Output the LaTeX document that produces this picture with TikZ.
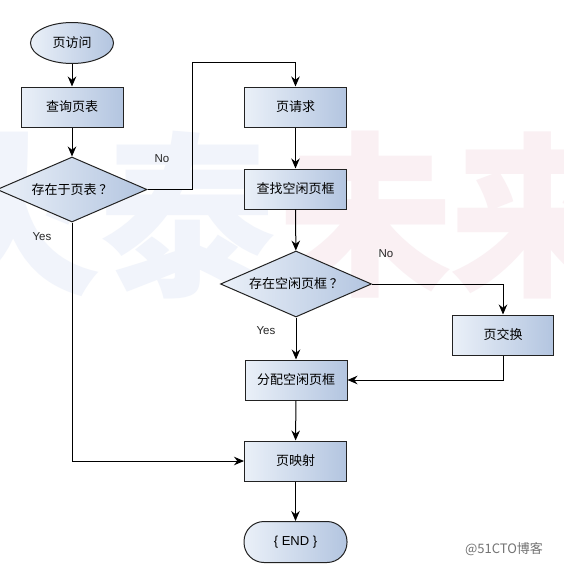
\documentclass[tikz,border=0pt]{standalone}
\usepackage{fontspec}
\setmainfont{Liberation Sans}
\newfontfamily\cjk{Noto Sans CJK SC}
\usetikzlibrary{shapes.geometric,arrows.meta}
\definecolor{boxL}{HTML}{EAF0F8}
\definecolor{boxR}{HTML}{B3C5E0}
\definecolor{wmblue}{HTML}{F1F4FB}
\definecolor{wmpink}{HTML}{FAF0F3}
\definecolor{edge}{HTML}{222222}
\begin{document}
\begin{tikzpicture}[x=1pt,y=-1pt,line width=1pt,
  cjkfont/.style={font=\cjk\fontsize{13}{15}\selectfont},
  box/.style={draw=edge, rectangle, minimum width=102pt, minimum height=40pt, inner sep=0pt,
    left color=boxL, right color=boxR, cjkfont},
  dec/.style={draw=edge, diamond, minimum width=150pt, minimum height=65pt, aspect=2.3,
    inner sep=0pt, left color=boxL, right color=boxR, cjkfont},
  term/.style={draw=edge, ellipse, minimum width=83pt, minimum height=41pt, inner sep=0pt,
    left color=boxL, right color=boxR, cjkfont},
  endbox/.style={draw=edge, rectangle, rounded corners=20pt, minimum width=103pt,
    minimum height=41pt, inner sep=0pt, left color=boxL, right color=boxR,
    font=\fontsize{13}{15}\selectfont},
  lab/.style={font=\fontsize{11.5}{13}\selectfont, text=black!85, inner sep=0pt},
  wm/.style={font=\cjk\bfseries\fontsize{176}{176}\selectfont, inner sep=0pt},
  arr/.style={-{Stealth[length=10pt,width=8.5pt]}, draw=black}
]
\useasboundingbox (0,0) rectangle (564,568);
\fill[white] (0,0) rectangle (564,568);
% watermark
\begin{scope}
  \clip (0,0) rectangle (564,568);
  \node[wm, text=wmblue] (wm1) at (15,215) {火};
  \node[wm, text=wmblue] (wm2) at (187,215) {泰};
  \node[wm, text=wmpink] (wm3) at (365,215) {未};
  \node[wm, text=wmpink] (wm4) at (537,215) {来};
\end{scope}
% nodes
\node[term] (start) at (72,43) {页访问};
\node[box] (query) at (72,107) {查询页表};
\node[dec] (d1) at (72,189.5) {存在于页表 ？};
\node[box] (req) at (295.5,107) {页请求};
\node[box] (find) at (295.5,189) {查找空闲页框};
\node[dec, minimum width=151pt, minimum height=66pt] (d2) at (296,284) {存在空闲页框 ？};
\node[box, minimum width=101pt] (swap) at (503,335) {页交换};
\node[box] (alloc) at (296,380) {分配空闲页框};
\node[box] (map) at (295.5,461) {页映射};
\node[endbox] (end) at (295.5,542) {\{ END \}};
\coordinate (c1) at (192,62);
% connectors
\draw[arr] (start) -- (query);
\draw[arr] (query) -- (d1);
\draw[arr] (d1.east) -| (c1) -| (req.north);
\draw[arr] (req) -- (find);
\draw[arr] (find) -- (d2);
\draw[arr] (d2.east) -| (swap.north);
\draw[arr] (d2.south) -- (alloc.north);
\draw[arr] (swap.south) |- (alloc.east);
\draw[arr] (alloc) -- (map);
\draw[arr] (d1.south) |- (map.west);
\draw[arr] (map) -- (end);
% labels
\node[lab] (no1) at (162,159) {No};
\node[lab] (yes1) at (42,237) {Yes};
\node[lab] (no2) at (386,254) {No};
\node[lab] (yes2) at (266,331) {Yes};
\node[font=\cjk\fontsize{13}{15}\selectfont, text=black!55, inner sep=0pt] (brand) at (504,549) {@51CTO博客};
\end{tikzpicture}
\end{document}
